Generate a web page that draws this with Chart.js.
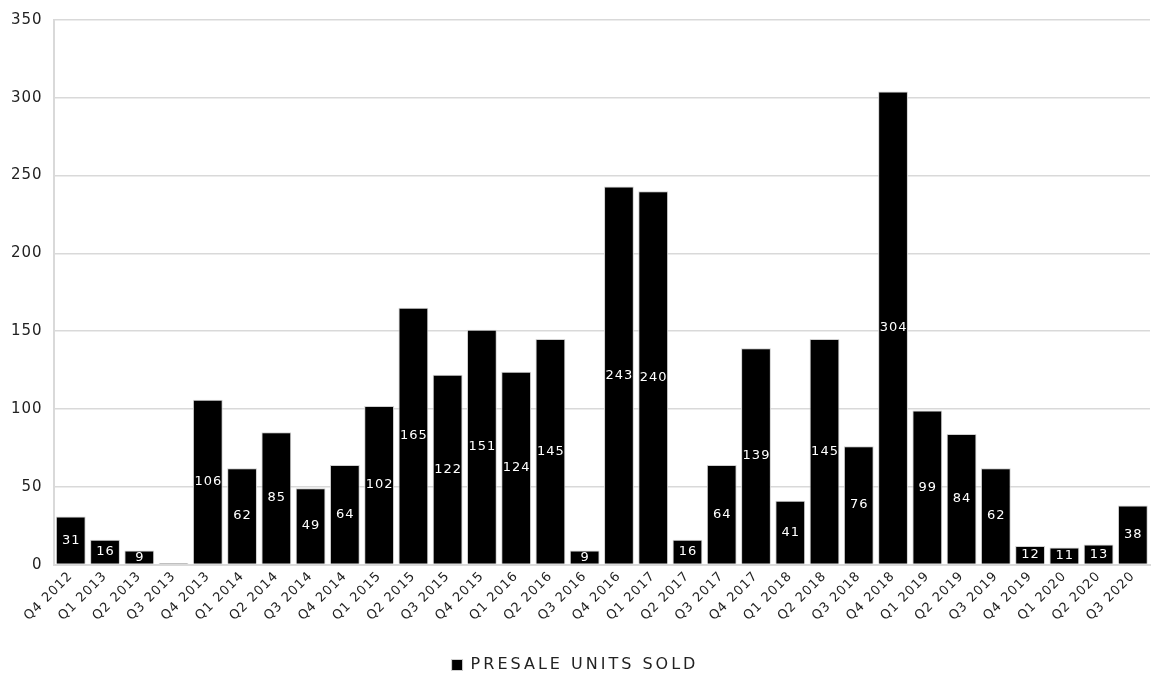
<!DOCTYPE html>
<html>
<head>
<meta charset="utf-8">
<script src="https://cdn.jsdelivr.net/npm/chart.js@4/dist/chart.umd.min.js"></script>
<style>
  html, body { margin: 0; padding: 0; background: #fff; }
  #wrap { width: 1151px; height: 675px; position: relative; }
</style>
</head>
<body>
<div id="wrap"><canvas id="presaleChart"></canvas></div>
<script>
const quarters = [
  'Q4 2012', 'Q1 2013', 'Q2 2013', 'Q3 2013', 'Q4 2013', 'Q1 2014', 'Q2 2014', 'Q3 2014',
  'Q4 2014', 'Q1 2015', 'Q2 2015', 'Q3 2015', 'Q4 2015', 'Q1 2016', 'Q2 2016', 'Q3 2016',
  'Q4 2016', 'Q1 2017', 'Q2 2017', 'Q3 2017', 'Q4 2017', 'Q1 2018', 'Q2 2018', 'Q3 2018',
  'Q4 2018', 'Q1 2019', 'Q2 2019', 'Q3 2019', 'Q4 2019', 'Q1 2020', 'Q2 2020', 'Q3 2020'
];
const unitsSold = [
  31, 16, 9, 1, 106, 62, 85, 49,
  64, 102, 165, 122, 151, 124, 145, 9,
  243, 240, 16, 64, 139, 41, 145, 76,
  304, 99, 84, 62, 12, 11, 13, 38
];
const yTicks = [0, 50, 100, 150, 200, 250, 300, 350];

const FONT = '"DejaVu Sans", sans-serif';

// slightly looser tracking everywhere, wider still for the legend
const spacing = {
  id: 'spacing',
  afterInit(chart) {
    const lg = chart.legend;
    ['fit', 'draw'].forEach(fn => {
      const orig = lg[fn].bind(lg);
      lg[fn] = (...args) => {
        const ctx = chart.ctx;
        const prev = ctx.letterSpacing;
        ctx.letterSpacing = '3px';
        const res = orig(...args);
        ctx.letterSpacing = prev;
        return res;
      };
    });
  },
  beforeUpdate(chart) { chart.ctx.letterSpacing = '1px'; },
  beforeDraw(chart) { chart.ctx.letterSpacing = '1px'; }
};

// white value labels in the middle of each bar
const barLabels = {
  id: 'barLabels',
  afterDatasetsDraw(chart) {
    const ctx = chart.ctx;
    const meta = chart.getDatasetMeta(0);
    ctx.save();
    ctx.fillStyle = '#fff';
    ctx.font = '13px ' + FONT;
    ctx.letterSpacing = '1px';
    ctx.textAlign = 'center';
    ctx.textBaseline = 'middle';
    meta.data.forEach((bar, i) => {
      const v = unitsSold[i];
      if (v < 5) return;
      ctx.fillText(String(v), bar.x + 0.5, (bar.y + bar.base) / 2);
    });
    ctx.restore();
  }
};

new Chart(document.getElementById('presaleChart'), {
  type: 'bar',
  data: {
    labels: quarters,
    datasets: [{
      label: 'PRESALE UNITS SOLD',
      data: unitsSold,
      backgroundColor: '#000',
      borderColor: '#d0d0d0',
      borderWidth: 1,
      categoryPercentage: 1,
      barPercentage: 0.87
    }]
  },
  options: {
    responsive: true,
    maintainAspectRatio: false,
    animation: false,
    layout: { padding: { top: -2, right: 1, left: 0, bottom: -8 } },
    plugins: {
      legend: {
        position: 'bottom',
        labels: {
          color: '#222',
          font: { family: FONT, size: 16 },
          boxWidth: 11,
          boxHeight: 11,
          padding: 4
        }
      },
      tooltip: { enabled: false }
    },
    scales: {
      x: {
        grid: { display: false, drawTicks: false },
        border: { color: '#d9d9d9', width: 2 },
        afterCalculateLabelRotation: axis => { axis.labelRotation = 45; },
        // extra gap between the rotated labels and the legend
        afterFit: axis => { axis.height += 25; },
        ticks: {
          color: '#222',
          font: { family: FONT, size: 13 },
          minRotation: 45,
          maxRotation: 45,
          autoSkip: false,
          padding: 4
        }
      },
      y: {
        min: 0,
        max: 350,
        afterBuildTicks: axis => { axis.ticks = yTicks.map(v => ({ value: v })); },
        grid: { color: '#d9d9d9', lineWidth: 1.5, drawTicks: false },
        border: { color: '#d9d9d9', width: 2 },
        ticks: {
          color: '#222',
          font: { family: FONT, size: 15 },
          padding: 11
        }
      }
    }
  },
  plugins: [spacing, barLabels]
});
</script>
</body>
</html>
